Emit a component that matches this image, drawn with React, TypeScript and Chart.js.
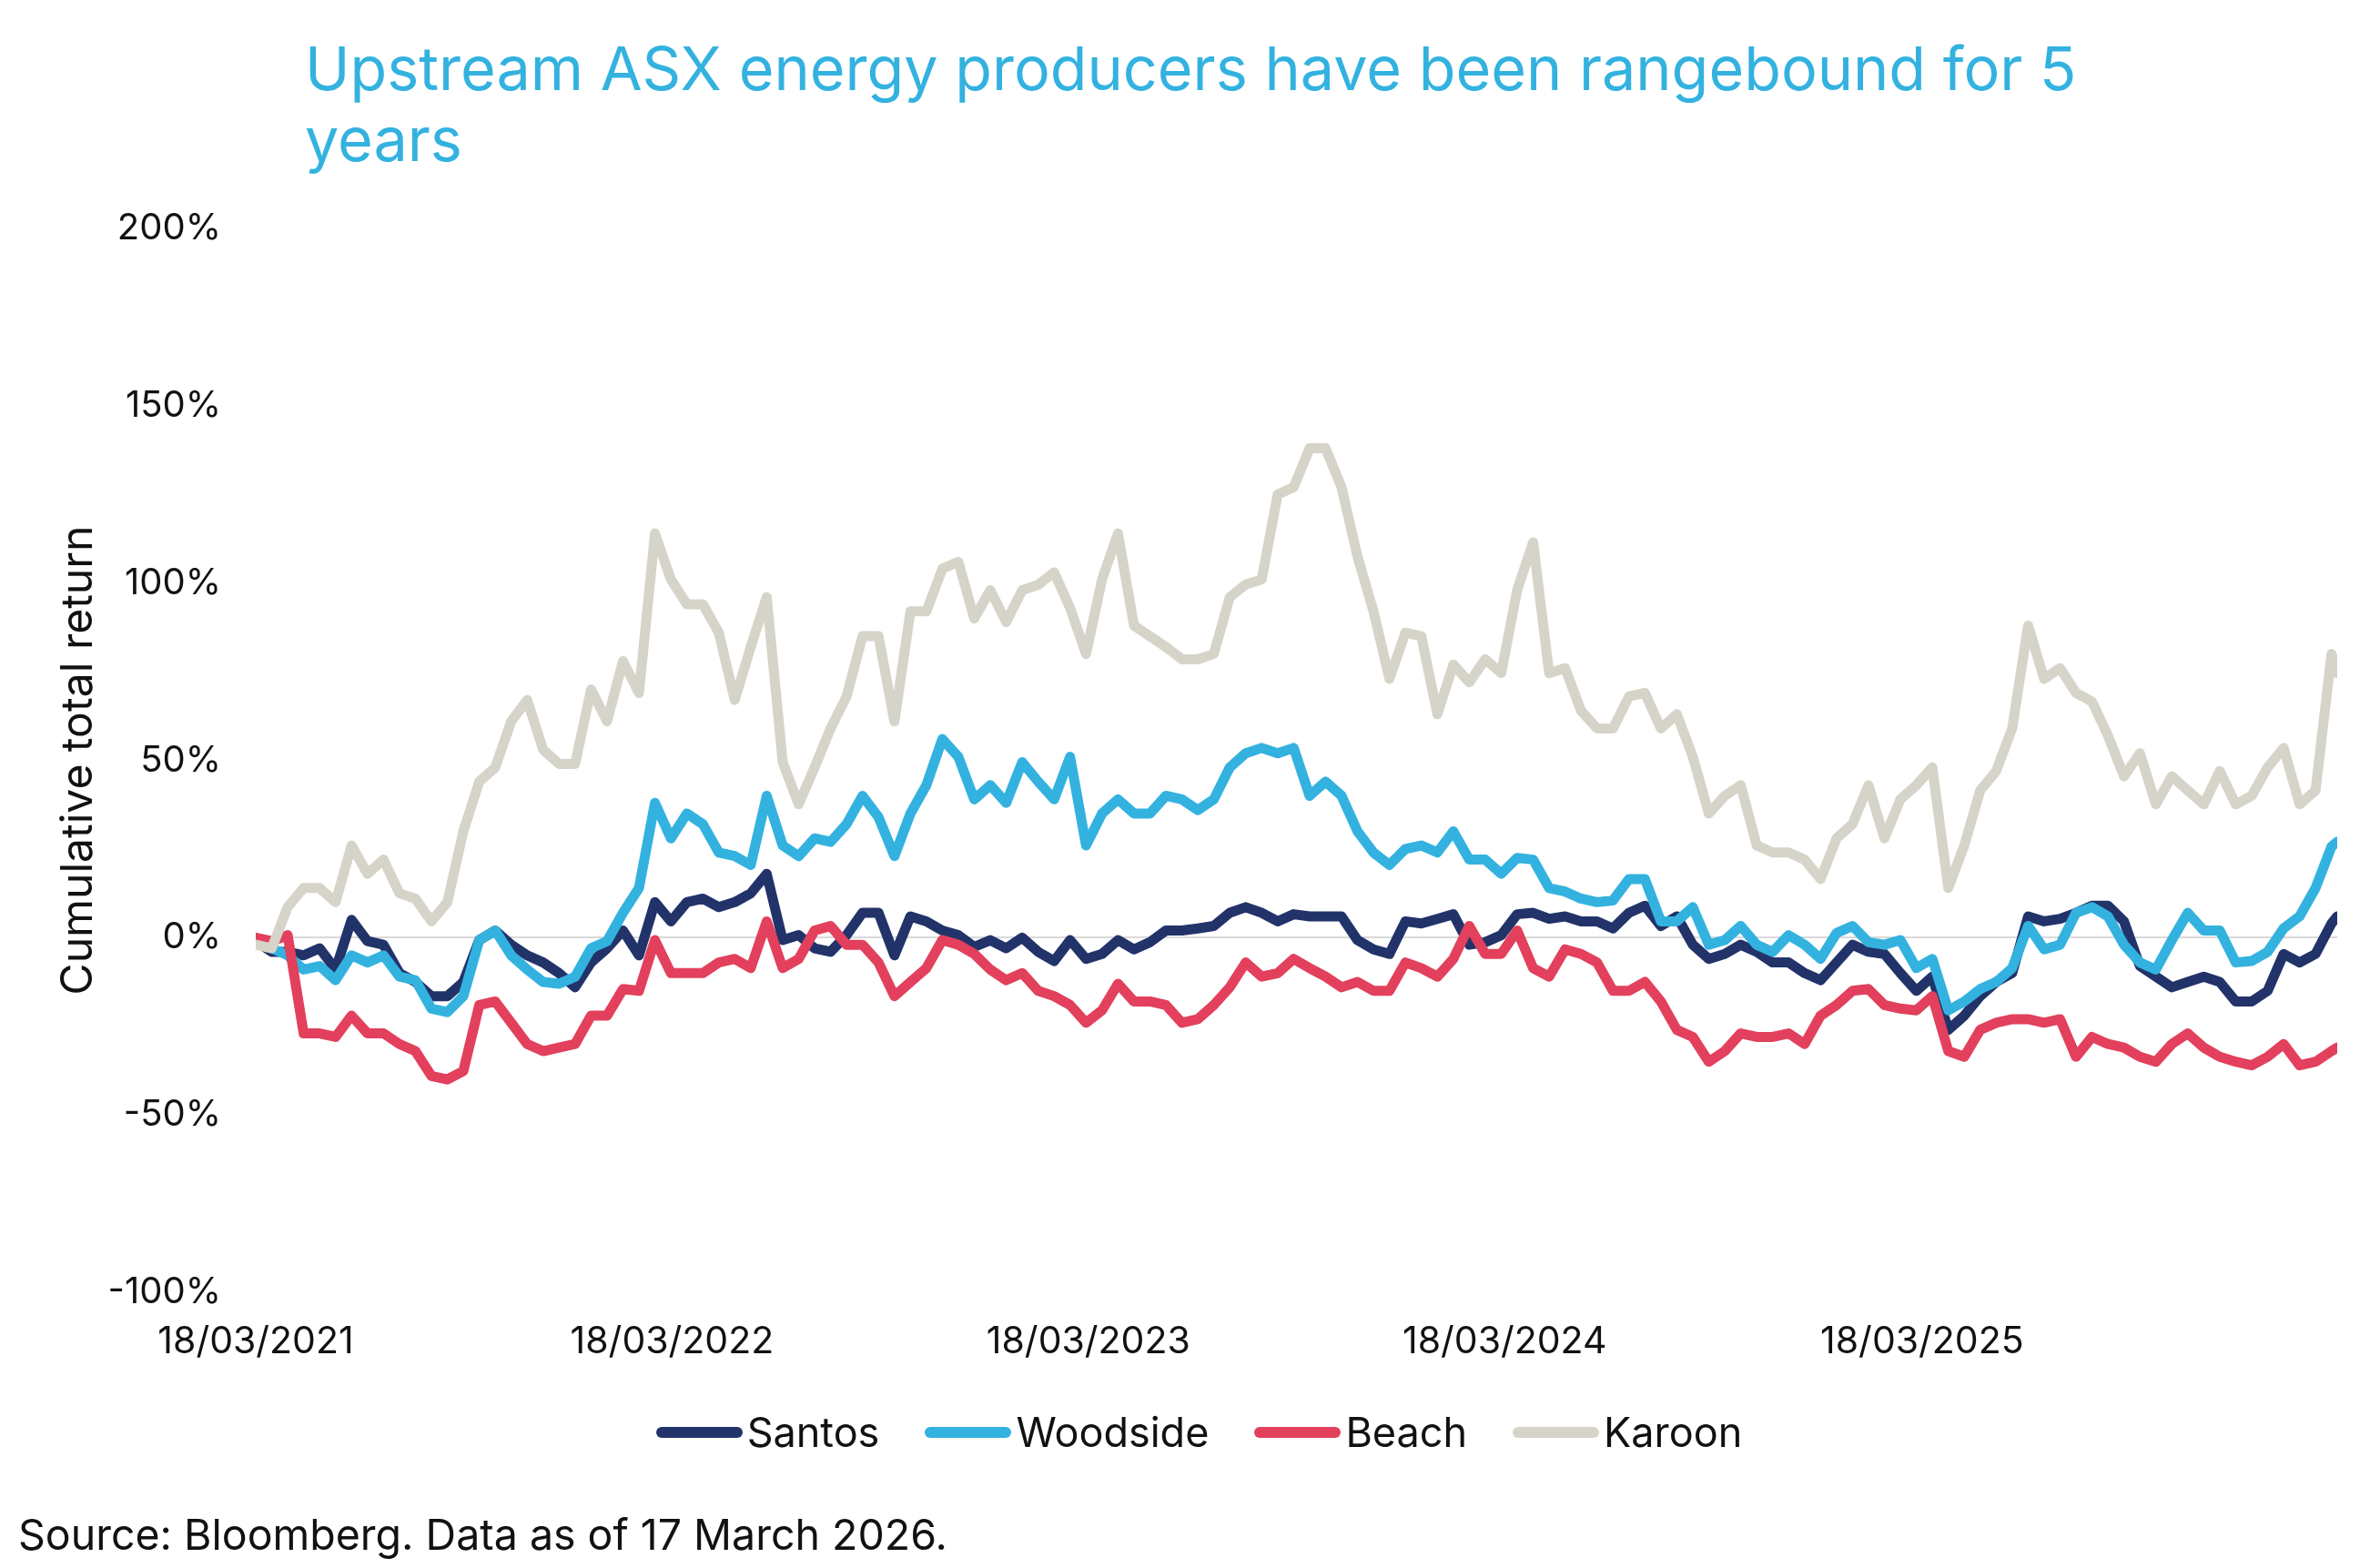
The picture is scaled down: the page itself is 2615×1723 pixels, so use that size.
import { useEffect, useRef } from "react";
import { Chart, registerables } from "chart.js";

Chart.register(...registerables);

// one sample every 14 days from 18/03/2021, last one on 17/03/2026 (day 1825)
const stepDays = 14;
const lastDay = 1825;

const santos = [
  -1, -4, -4, -5, -3, -9, 5, -1, -2, -10, -12.5, -16.5, -16.5, -12.5, -0.7, 2, -2, -5, -7, -10, -14, -7, -3, 2, -5, 10, 4.6, 10,
  11, 8.6, 10, 12.5, 18, -0.7, 0.7, -3, -4, 0.7, 7, 7, -5, 6, 4.6, 2, 0.7, -2.6, -0.7, -3, 0, -4, -6.6, -0.7, -6, -4.6, -0.7, -3.3,
  -1.3, 2, 2, 2.6, 3.3, 7, 8.6, 7, 4.6, 6.6, 6, 6, 6, -0.7, -3.3, -4.6, 4.6, 4, 5.3, 6.6, -2, -1.3, 0.7, 6.6, 7, 5.3, 6, 4.6,
  4.6, 2.6, 7, 9, 3.3, 6, -2, -6, -4.6, -2, -4, -7, -7, -10, -12, -7, -2, -4, -4.6, -10, -15, -11, -26, -22, -16.5, -12.5, -10, 6,
  4.6, 5.3, 7, 9, 9, 4.6, -8, -11, -14, -12.5, -11, -12.5, -18, -18, -15, -4.6, -7, -4.6, 4, 6,
];

const woodside = [
  -1, -3, -5, -9, -8, -12, -5, -7, -5, -11, -12, -20, -21, -16.5, -0.7, 2, -5, -9, -12.5, -13, -11, -3, -1, 7, 14, 38, 28, 35,
  32, 24, 23, 20.5, 40, 26, 23, 28, 27, 32, 40, 34, 23, 35, 43, 56, 51, 39, 43, 38, 49.5, 44, 39, 51, 26, 35, 39, 35,
  35, 40, 39, 36, 39, 48, 52, 53.5, 52, 53.5, 40, 44, 40, 30, 24, 20.5, 25, 26, 24, 30, 22, 22, 18, 22.5, 22, 14, 13, 11,
  10, 10.5, 16.5, 16.5, 4.6, 4.6, 8.6, -2, -0.7, 3.3, -2, -4, 0.7, -2, -6, 1.3, 3.3, -1.3, -2, -0.7, -8.6, -6, -20.5, -18, -14.5, -12.5, -8.6, 3.3,
  -3.3, -2, 7, 8.6, 6, -2, -7, -9, -0.7, 7, 2, 2, -7, -6.6, -4, 2.6, 6, 14, 25.7, 27,
];

const beach = [
  0, -1, 0.7, -27, -27, -28, -22, -27, -27, -30, -32, -39, -40, -37.6, -19, -18, -24, -30, -32, -31, -30, -22, -22, -14.5, -15, -0.7, -10, -10,
  -10, -7, -6, -8.6, 4.6, -8.6, -6, 2, 3.3, -2, -2, -7, -16.5, -12.5, -8.6, -0.7, -2, -4.6, -9, -12, -10, -15, -16.5, -19, -24, -20.5, -13, -18,
  -18, -19, -24, -23, -19, -14, -7, -11, -10, -6, -8.6, -11, -14, -12.5, -15, -15, -7, -8.6, -11, -6, 3.3, -4.6, -4.6, 2, -8.6, -11, -3.3, -4.6,
  -7, -15, -15, -12.5, -18, -26, -28, -35, -32, -27, -28, -28, -27, -30, -22, -19, -15, -14.5, -19, -20, -20.5, -16.5, -32, -33.6, -26, -24, -23, -23,
  -24, -23, -33.6, -28, -30, -31, -33.6, -35, -30, -27, -31, -33.6, -35, -36, -33.6, -30, -36, -35, -32, -31,
];

const karoon = [
  -2, -3, 8.6, 14, 14, 10, 26, 18, 22, 12.5, 11, 4.6, 10, 30, 44, 48, 61, 67, 53, 49, 49, 70, 61, 78, 69, 114, 101, 94,
  94, 86, 67, 82, 96, 49.5, 37.6, 48, 59, 68, 85, 85, 61, 92, 92, 104, 106, 90, 98, 89, 98, 99.5, 103, 93, 80, 101, 114, 88,
  85, 82, 78.5, 78.5, 80, 96, 99.6, 101, 125, 127, 138, 138, 127, 107.5, 92, 73, 86, 85, 63, 77, 72, 78.5, 74.6, 98, 111.5, 74.6, 76, 64,
  59, 59, 68, 69, 59, 63, 51, 35, 40, 43, 26, 24, 24, 22, 16.5, 28, 32, 43, 28, 39, 43, 48, 14, 26, 41.5, 47, 59, 88,
  73, 76, 69, 66.6, 57, 45.5, 52, 37.6, 45.5, 41.5, 37.6, 47, 37.6, 40, 48, 53.5, 37.6, 41.5, 80, 74.6,
];

const seriesNames = ["Santos", "Woodside", "Beach", "Karoon"];
const seriesColors = ["#22336a", "#33b2e0", "#e2405c", "#d6d4c9"];
const seriesValues = [santos, woodside, beach, karoon];

const tickDays = [0, 365, 730, 1095, 1461];
const tickLabels = ["18/03/2021", "18/03/2022", "18/03/2023", "18/03/2024", "18/03/2025"];

const FONT = "Inter, 'DejaVu Sans', sans-serif";

const dayOf = (i: number, n: number) => (i === n - 1 ? lastDay : i * stepDays);

export default function App() {
  const canvasEl = useRef<HTMLCanvasElement>(null);

  useEffect(() => {
    const ctx = canvasEl.current;
    const chart = new Chart(ctx!, {
      type: "line",
      data: {
        datasets: seriesValues.map((vals, k) => ({
          label: seriesNames[k],
          data: vals.map((v, i) => ({ x: dayOf(i, vals.length), y: v })),
          borderColor: seriesColors[k],
          backgroundColor: seriesColors[k],
          borderWidth: 11,
          borderJoinStyle: "round" as const,
          borderCapStyle: "round" as const,
          pointRadius: 0,
          tension: 0,
          order: seriesNames.length - k,
        })),
      },
      options: {
        animation: false,
        responsive: false,
        devicePixelRatio: 1,
        layout: { padding: { top: 251, right: 47, bottom: 0, left: 0 } },
        plugins: {
          legend: { display: false },
          tooltip: { enabled: false },
        },
        scales: {
          x: {
            type: "linear",
            min: 0,
            max: lastDay,
            afterBuildTicks: (s: any) => {
              s.ticks = tickDays.map((v) => ({ value: v }));
            },
            afterFit: (s: any) => {
              s.height = 303;
            },
            ticks: {
              autoSkip: false,
              maxRotation: 0,
              padding: 30,
              color: "#111",
              font: { family: FONT, size: 41 },
              callback: (v: any) => tickLabels[tickDays.indexOf(Number(v))] ?? "",
            },
            grid: { display: false, drawTicks: false },
            border: { display: false },
          },
          y: {
            min: -100,
            max: 200,
            afterBuildTicks: (s: any) => {
              s.ticks = [-100, -50, 0, 50, 100, 150, 200].map((v) => ({ value: v }));
            },
            afterFit: (s: any) => {
              s.width = 281;
            },
            ticks: {
              padding: 38,
              color: "#111",
              font: { family: FONT, size: 40 },
              callback: (v: any) => `${v}%`,
            },
            grid: {
              drawTicks: false,
              lineWidth: 2,
              color: (c: any) => (c.tick && c.tick.value === 0 ? "#d9d9d9" : "rgba(0,0,0,0)"),
            },
            border: { display: false },
            title: {
              display: true,
              text: "Cumulative total return",
              color: "#111",
              font: { family: FONT, size: 48 },
              padding: { top: 58, bottom: 0 },
            },
          },
        },
      },
    });
    return () => {
      chart.destroy();
    };
  }, []);

  return (
    <div
      style={{
        position: "absolute",
        left: 0,
        top: 0,
        width: 2615,
        height: 1723,
        background: "#fff",
        overflow: "hidden",
        fontFamily: FONT,
      }}
    >
      <canvas ref={canvasEl} width={2615} height={1723} style={{ position: "absolute", left: 0, top: 0 }} />
      <div
        style={{
          position: "absolute",
          left: 335,
          top: 36,
          fontSize: 66.5,
          lineHeight: "78px",
          color: "#33b2e0",
          whiteSpace: "nowrap",
        }}
      >
        Upstream ASX energy producers have been rangebound for 5
        <br />
        years
      </div>
      <div
        style={{
          position: "absolute",
          top: 1547,
          left: 10,
          width: 2615,
          display: "flex",
          justifyContent: "center",
          alignItems: "center",
          fontSize: 45,
          lineHeight: "54px",
          color: "#111",
        }}
      >
        {seriesNames.map((name, k) => (
          <div key={name} style={{ display: "flex", alignItems: "center", marginLeft: k ? 50 : 0 }}>
            <span
              style={{
                display: "inline-block",
                width: 95,
                height: 12,
                borderRadius: 6,
                background: seriesColors[k],
                marginRight: 5,
              }}
            />
            <span>{name}</span>
          </div>
        ))}
      </div>
      <div
        style={{
          position: "absolute",
          left: 20,
          top: 1660,
          fontSize: 46.5,
          lineHeight: "52px",
          color: "#111",
          whiteSpace: "nowrap",
        }}
      >
        Source: Bloomberg. Data as of 17 March 2026.
      </div>
    </div>
  );
}
